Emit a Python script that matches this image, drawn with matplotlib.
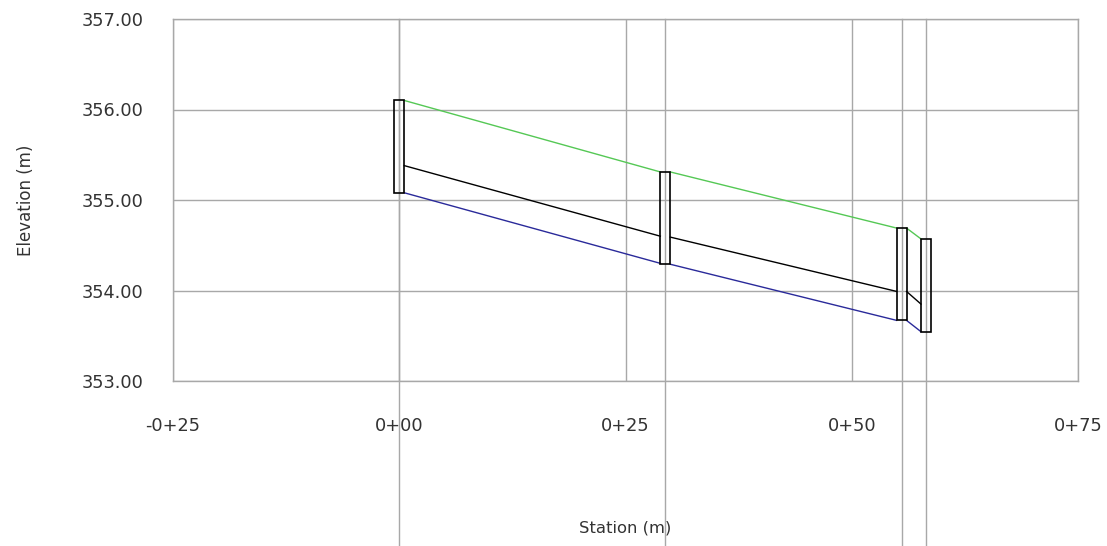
import matplotlib
matplotlib.use("Agg")
import matplotlib.pyplot as plt
from matplotlib.patches import Rectangle

# ---- data ----
stations = [0.0, 29.4, 55.5, 58.2]
rim_elev = [356.10, 355.31, 354.69, 354.57]
sump_elev = [355.08, 354.29, 353.67, 353.545]
crown_start = [355.38, 354.59, 353.99]
crown_end = [354.60, 353.99, 353.85]
invert_start = [355.08, 354.29, 353.67]
invert_end = [354.30, 353.67, 353.545]
xticks = [-25, 0, 25, 50, 75]
xtick_labels = ["-0+25", "0+00", "0+25", "0+50", "0+75"]
yticks = [353, 354, 355, 356, 357]
ytick_labels = ["353.00", "354.00", "355.00", "356.00", "357.00"]

box_w = 1.1
grid_c = "#a8a8a8"

fig = plt.figure(figsize=(11.07, 5.46), dpi=100)
ax = fig.add_axes([173/1107, 1 - 381/546, (1078-173)/1107, (381-19)/546])
ax.set_xlim(-25, 75)
ax.set_ylim(353, 357)
ax.set_xticks(xticks)
ax.set_xticklabels(xtick_labels)
ax.set_yticks(yticks)
ax.set_yticklabels(ytick_labels)
ax.tick_params(length=0, labelsize=12.8, colors="#333333")
ax.tick_params(axis="y", pad=21)
ax.tick_params(axis="x", pad=26)
for s in ax.spines.values():
    s.set_color(grid_c)
    s.set_linewidth(1.0)
ax.grid(True, color=grid_c, linewidth=1.0)
ax.set_axisbelow(True)

# station lines extending below the axes
for s in stations:
    ax.axvline(s, ymin=-0.46, ymax=1.0, color=grid_c, linewidth=1.0, clip_on=False, zorder=1)

# pipe segments
for i in range(len(stations) - 1):
    x0 = stations[i] + box_w / 2
    x1 = stations[i + 1] - box_w / 2
    ax.plot([x0, x1], [rim_elev[i], rim_elev[i + 1]], color="#55c855", lw=1.0, zorder=3)
    ax.plot([x0, x1], [crown_start[i], crown_end[i]], color="black", lw=1.0, zorder=3)
    ax.plot([x0, x1], [invert_start[i], invert_end[i]], color="#2a2a9a", lw=1.0, zorder=3)

# structures
for s, t, b in zip(stations, rim_elev, sump_elev):
    ax.add_patch(Rectangle((s - box_w / 2, b), box_w, t - b, facecolor="none",
                           edgecolor="black", lw=1.2, zorder=4))

ax.set_ylabel("Elevation (m)", fontsize=12, color="#333333", labelpad=34)
fig.text(625/1107, 1 - 528/546, "Station (m)", ha="center", va="center", fontsize=11.8, color="#333333")

fig.savefig("out.png", dpi=100, facecolor="white")
